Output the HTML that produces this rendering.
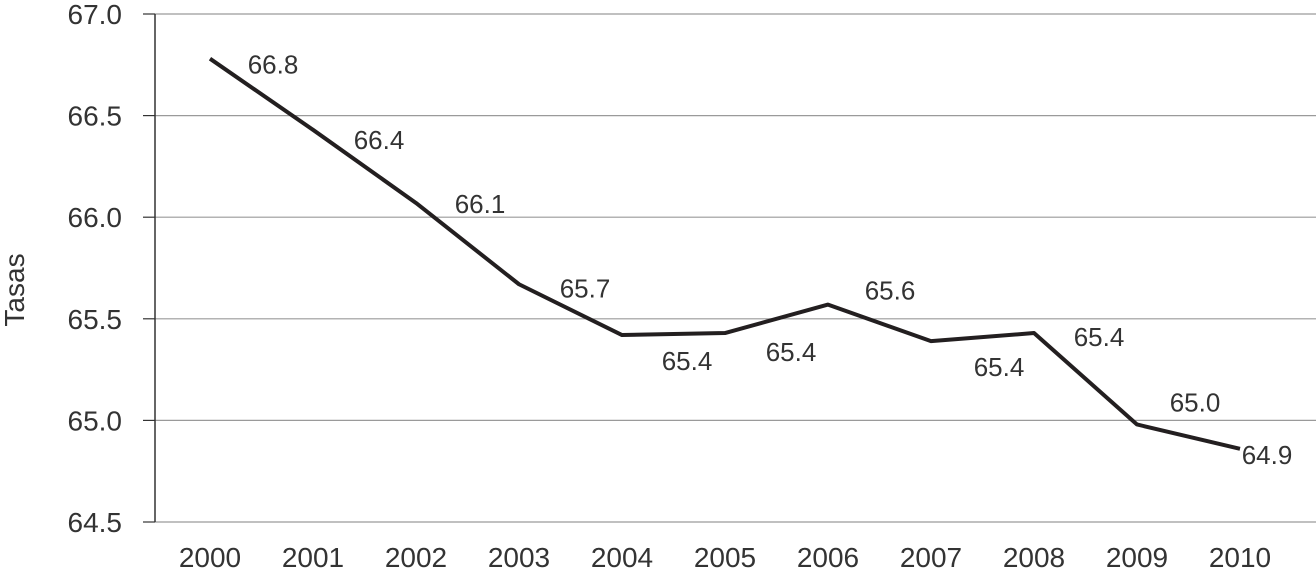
<!DOCTYPE html>
<html><head><meta charset="utf-8"><style>
body{margin:0;background:#fff;}
svg{display:block;font-family:"Liberation Sans",sans-serif;}
</style></head><body>
<svg id="chart" width="1316" height="570" viewBox="0 0 1316 570"></svg>
<script>
const years=["2000","2001","2002","2003","2004","2005","2006","2007","2008","2009","2010"];
const values=[66.78,66.43,66.07,65.67,65.42,65.43,65.57,65.39,65.43,64.98,64.86];
const valueLabels=["66.8","66.4","66.1","65.7","65.4","65.4","65.6","65.4","65.4","65.0","64.9"];
const yTicks=[64.5,65.0,65.5,66.0,66.5,67.0];
const labelDx=[66,69,67,69,68,69,65,71,68,61,30];
const labelDy=[6,10,1,4,26,19,-14,26,4,-22,6];
const NS="http://www.w3.org/2000/svg";
const svg=document.getElementById('chart');
const L=155,R=1316,T=14,B=522;
const y=v=>B-(v-64.5)/(67-64.5)*(B-T);
const x=i=>210+i*103;
function mk(t,a){const e=document.createElementNS(NS,t);for(const k in a)e.setAttribute(k,a[k]);svg.appendChild(e);return e;}
yTicks.forEach(v=>{
  const g=mk('line',{x1:L,x2:R,y1:y(v),y2:y(v),stroke:'#9a9a9a','stroke-width':1.2});
  
  
  const tk=mk('line',{x1:143,x2:L,y1:y(v),y2:y(v),stroke:'#333','stroke-width':1.2});
  
  
  const t=mk('text',{x:122,y:y(v)+10,'text-anchor':'end','font-size':28,fill:'#333'});
  t.textContent=v.toFixed(1);
  
  
});
const ax=mk('line',{x1:L,x2:L,y1:T,y2:B,stroke:'#333','stroke-width':1.5});


years.forEach((yr,i)=>{
  const t=mk('text',{x:x(i),y:567,'text-anchor':'middle','font-size':28,fill:'#333'});
  t.textContent=yr;
  
  
});
const yt=mk('text',{x:0,y:0,'text-anchor':'middle','font-size':28,fill:'#333',transform:'translate(24,290) rotate(-90)'});
yt.textContent='Tasas';


const pl=mk('polyline',{points:values.map((v,i)=>x(i)+','+y(v)).join(' '),fill:'none',stroke:'#231f20','stroke-width':4,'stroke-linejoin':'round'});


values.forEach((v,i)=>{
  const t=mk('text',{x:x(i)+labelDx[i]-3,y:y(v)+labelDy[i]+9,'text-anchor':'middle','font-size':26,fill:'#333'});
  t.textContent=valueLabels[i];
  
  
});
</script>
</body></html>
